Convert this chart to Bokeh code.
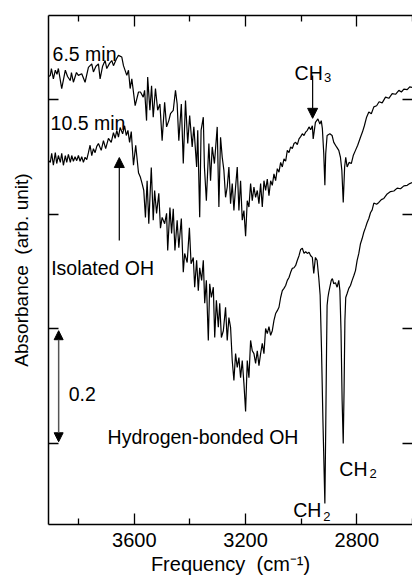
from bokeh.plotting import figure
from bokeh.models import Range1d, LinearAxis, FixedTicker, Label, Arrow, NormalHead
from bokeh.embed import file_html
from bokeh.resources import INLINE

# ---- data ----
freq_65 = [3908, 3902, 3898, 3891, 3884, 3878, 3873, 3861, 3848, 3840,
           3830, 3826, 3819, 3808, 3801, 3789, 3777, 3765, 3753, 3747,
           3738, 3729, 3723, 3714, 3705, 3699, 3689, 3681, 3675, 3664,
           3657, 3645, 3639, 3627, 3621, 3615, 3609, 3597, 3585, 3578,
           3568, 3563, 3556, 3552, 3544, 3538, 3532, 3524, 3516, 3508,
           3500, 3491, 3484, 3476, 3470, 3460, 3452, 3446, 3440, 3431,
           3424, 3416, 3408, 3401, 3392, 3386, 3376, 3372, 3365, 3360,
           3352, 3348, 3341, 3332, 3326, 3320, 3312, 3302, 3296, 3290,
           3284, 3278, 3272, 3266, 3260, 3254, 3248, 3242, 3236, 3230,
           3224, 3218, 3212, 3206, 3200, 3194, 3188, 3182, 3176, 3170,
           3164, 3158, 3152, 3146, 3140, 3134, 3128, 3122, 3116, 3110,
           3104, 3098, 3092, 3086, 3080, 3074, 3068, 3062, 3056, 3050,
           3044, 3038, 3032, 3026, 3020, 3014, 3008, 3002, 2996, 2990,
           2984, 2978, 2972, 2966, 2960, 2957, 2949, 2940, 2933, 2928,
           2924, 2919, 2915, 2912, 2907, 2897, 2889, 2883, 2873, 2865,
           2859, 2854, 2849, 2844, 2840, 2835, 2828, 2820, 2813, 2805,
           2797, 2787, 2780, 2773, 2765, 2757, 2748, 2739, 2729, 2720,
           2709, 2697, 2685, 2673, 2661, 2649, 2640, 2631, 2619, 2610,
           2600]
abs_65 = [0.841, 0.843, 0.855, 0.837, 0.852, 0.845, 0.855, 0.820, 0.852, 0.841,
          0.834, 0.848, 0.831, 0.848, 0.843, 0.846, 0.831, 0.857, 0.863, 0.849,
          0.859, 0.863, 0.837, 0.859, 0.869, 0.855, 0.864, 0.869, 0.860, 0.872,
          0.878, 0.875, 0.860, 0.843, 0.852, 0.820, 0.837, 0.790, 0.814, 0.814,
          0.805, 0.817, 0.764, 0.840, 0.782, 0.825, 0.770, 0.820, 0.782, 0.793,
          0.729, 0.796, 0.753, 0.764, 0.776, 0.782, 0.817, 0.793, 0.729, 0.793,
          0.689, 0.799, 0.724, 0.773, 0.718, 0.753, 0.683, 0.747, 0.595, 0.747,
          0.770, 0.683, 0.624, 0.724, 0.659, 0.718, 0.689, 0.753, 0.613, 0.735,
          0.700, 0.677, 0.630, 0.648, 0.683, 0.619, 0.654, 0.607, 0.648, 0.683,
          0.607, 0.659, 0.590, 0.607, 0.562, 0.624, 0.613, 0.654, 0.624, 0.648,
          0.630, 0.642, 0.619, 0.654, 0.613, 0.659, 0.642, 0.662, 0.633, 0.659,
          0.651, 0.671, 0.659, 0.680, 0.674, 0.691, 0.683, 0.697, 0.693, 0.712,
          0.708, 0.718, 0.715, 0.724, 0.726, 0.722, 0.732, 0.736, 0.741, 0.738,
          0.744, 0.747, 0.753, 0.748, 0.755, 0.732, 0.761, 0.767, 0.758, 0.764,
          0.750, 0.706, 0.651, 0.706, 0.738, 0.741, 0.738, 0.726, 0.718, 0.712,
          0.700, 0.677, 0.621, 0.683, 0.700, 0.683, 0.691, 0.689, 0.703, 0.712,
          0.721, 0.735, 0.744, 0.755, 0.770, 0.779, 0.776, 0.788, 0.790, 0.797,
          0.795, 0.805, 0.803, 0.811, 0.810, 0.817, 0.814, 0.819, 0.818, 0.823,
          0.822]

freq_105 = [3908, 3902, 3897, 3891, 3884, 3879, 3873, 3866, 3861, 3855,
            3848, 3843, 3837, 3830, 3825, 3819, 3813, 3807, 3801, 3795,
            3789, 3783, 3777, 3771, 3765, 3759, 3753, 3747, 3741, 3735,
            3729, 3719, 3711, 3703, 3693, 3683, 3675, 3669, 3663, 3657,
            3651, 3642, 3635, 3629, 3623, 3617, 3611, 3603, 3595, 3585,
            3578, 3572, 3566, 3560, 3554, 3548, 3539, 3532, 3527, 3520,
            3512, 3506, 3500, 3491, 3484, 3480, 3472, 3466, 3460, 3454,
            3446, 3440, 3431, 3424, 3419, 3410, 3402, 3396, 3388, 3383,
            3376, 3370, 3365, 3358, 3352, 3347, 3341, 3334, 3329, 3323,
            3316, 3311, 3305, 3298, 3293, 3287, 3280, 3272, 3266, 3260,
            3254, 3248, 3242, 3236, 3230, 3224, 3218, 3212, 3206, 3200,
            3194, 3188, 3182, 3176, 3170, 3164, 3158, 3152, 3146, 3140,
            3134, 3128, 3122, 3116, 3110, 3104, 3098, 3092, 3086, 3080,
            3074, 3068, 3062, 3056, 3050, 3044, 3038, 3032, 3026, 3020,
            3014, 3008, 3002, 2996, 2990, 2984, 2978, 2972, 2966, 2960,
            2955, 2949, 2943, 2937, 2932, 2927, 2922, 2915, 2912, 2909,
            2907, 2904, 2901, 2892, 2888, 2883, 2877, 2871, 2865, 2861,
            2857, 2853, 2849, 2846, 2843, 2840, 2835, 2829, 2823, 2817,
            2811, 2805, 2799, 2793, 2787, 2781, 2775, 2769, 2763, 2757,
            2751, 2745, 2739, 2729, 2721, 2712, 2703, 2691, 2679, 2667,
            2655, 2643, 2631, 2619, 2610, 2600]
abs_105 = [0.694, 0.691, 0.707, 0.686, 0.708, 0.689, 0.703, 0.691, 0.707, 0.686,
           0.703, 0.691, 0.705, 0.691, 0.703, 0.693, 0.701, 0.694, 0.703, 0.693,
           0.701, 0.691, 0.700, 0.696, 0.708, 0.721, 0.703, 0.715, 0.708, 0.719,
           0.724, 0.712, 0.729, 0.715, 0.733, 0.726, 0.743, 0.733, 0.747, 0.735,
           0.752, 0.741, 0.755, 0.738, 0.747, 0.726, 0.745, 0.686, 0.721, 0.673,
           0.665, 0.654, 0.642, 0.595, 0.659, 0.584, 0.682, 0.590, 0.642, 0.602,
           0.637, 0.576, 0.595, 0.584, 0.602, 0.537, 0.612, 0.567, 0.610, 0.537,
           0.590, 0.542, 0.593, 0.499, 0.532, 0.516, 0.577, 0.514, 0.525, 0.473,
           0.520, 0.467, 0.507, 0.485, 0.520, 0.445, 0.485, 0.380, 0.479, 0.455,
           0.473, 0.385, 0.450, 0.403, 0.445, 0.385, 0.397, 0.438, 0.380, 0.420,
           0.403, 0.345, 0.310, 0.357, 0.333, 0.350, 0.315, 0.345, 0.305, 0.256,
           0.345, 0.315, 0.380, 0.362, 0.357, 0.340, 0.362, 0.336, 0.357, 0.375,
           0.357, 0.401, 0.392, 0.404, 0.389, 0.397, 0.415, 0.427, 0.432, 0.438,
           0.455, 0.467, 0.471, 0.476, 0.485, 0.490, 0.499, 0.506, 0.507, 0.511,
           0.520, 0.528, 0.539, 0.541, 0.532, 0.535, 0.532, 0.534, 0.528, 0.525,
           0.497, 0.525, 0.520, 0.490, 0.459, 0.362, 0.240, 0.095, 0.223, 0.362,
           0.441, 0.455, 0.464, 0.485, 0.488, 0.479, 0.481, 0.473, 0.485, 0.467,
           0.397, 0.275, 0.200, 0.293, 0.415, 0.455, 0.462, 0.471, 0.476, 0.485,
           0.493, 0.502, 0.520, 0.532, 0.549, 0.558, 0.569, 0.577, 0.586, 0.593,
           0.603, 0.608, 0.620, 0.618, 0.621, 0.626, 0.628, 0.636, 0.640, 0.641,
           0.646, 0.645, 0.650, 0.651, 0.654, 0.656]

x_major_ticks = [3600, 3200, 2800]
x_minor_ticks = [3800, 3400, 3000, 2600]
y_ticks = [0.2, 0.4, 0.6, 0.8]

FONT = "Liberation Sans"

p = figure(width=412, height=583,
           x_range=Range1d(3908.5, 2600), y_range=Range1d(0.0585, 0.9476),
           output_backend="svg", toolbar_location=None,
           min_border_left=48, min_border_right=0,
           min_border_top=15, min_border_bottom=59)
p.grid.visible = False
p.outline_line_color = None
p.background_fill_color = "white"
p.border_fill_color = "white"

def style_axis(ax, ticker, tick_in, minor_in, labels):
    ax.ticker = ticker
    ax.major_tick_in = tick_in
    ax.major_tick_out = 0
    ax.minor_tick_in = minor_in
    ax.minor_tick_out = 0
    ax.axis_line_width = 1.5
    ax.major_tick_line_width = 1.3
    ax.minor_tick_line_width = 1.3
    ax.axis_line_color = "black"
    ax.major_tick_line_color = "black"
    ax.minor_tick_line_color = "black"
    if labels:
        ax.major_label_text_font = FONT
        ax.major_label_text_font_size = "20px"
        ax.major_label_text_color = "black"
        ax.major_label_standoff = 8
    else:
        ax.major_label_text_font_size = "1px"
        ax.major_label_text_color = None
        ax.major_label_standoff = 0

xb = p.below[0]
style_axis(xb, FixedTicker(ticks=x_major_ticks, minor_ticks=x_minor_ticks), 11, 6, True)
xb.axis_label = "Frequency\u00a0 (cm\u207b\u00b9)"
xb.axis_label_text_font = FONT
xb.axis_label_text_font_size = "20px"
xb.axis_label_text_font_style = "normal"
xb.axis_label_text_color = "black"
xb.axis_label_standoff = 3

xt = LinearAxis()
style_axis(xt, FixedTicker(ticks=x_major_ticks, minor_ticks=x_minor_ticks), 11, 6, False)
p.add_layout(xt, "above")

yl = p.left[0]
style_axis(yl, FixedTicker(ticks=y_ticks, minor_ticks=[]), 10, 0, False)
yl.axis_label = "Absorbance\u00a0 (arb. unit)"
yl.axis_label_text_font = FONT
yl.axis_label_text_font_size = "19px"
yl.axis_label_text_font_style = "normal"
yl.axis_label_text_color = "black"
yl.axis_label_standoff = 17

yr = LinearAxis()
style_axis(yr, FixedTicker(ticks=y_ticks, minor_ticks=[]), 10, 0, False)
yr.axis_line_color = None
p.add_layout(yr, "right")

p.line(freq_65, abs_65, line_color="black", line_width=1.2)
p.line(freq_105, abs_105, line_color="black", line_width=1.2)

def lab(x, y, text, size="19.5px"):
    p.add_layout(Label(x=x, y=y, text=text, text_font=FONT, text_font_size=size,
                       text_baseline="alphabetic", text_align="left",
                       text_color="black"))

lab(3894, 0.881, "6.5 min")
lab(3901, 0.759, "10.5 min")
lab(3899, 0.507, "Isolated OH")
lab(3024, 0.848, "CH")
lab(2918, 0.839, "3", "13px")
lab(3836, 0.2856, "0.2")
lab(3696, 0.2122, "Hydrogen-bonded OH")
lab(2863, 0.156, "CH")
lab(2755, 0.148, "2", "13px")
lab(3029, 0.083, "CH")
lab(2921, 0.0725, "2", "13px")

p.add_layout(Arrow(end=NormalHead(size=10, fill_color="black", line_color="black", line_width=1),
                   x_start=3654, y_start=0.5546, x_end=3654, y_end=0.6995,
                   line_color="black", line_width=1.2))
p.add_layout(Arrow(end=NormalHead(size=10, fill_color="black", line_color="black", line_width=1),
                   x_start=2959, y_start=0.843, x_end=2959, y_end=0.768,
                   line_color="black", line_width=1.2))
p.add_layout(Arrow(start=NormalHead(size=9, fill_color="black", line_color="black", line_width=1),
                   end=NormalHead(size=9, fill_color="black", line_color="black", line_width=1),
                   x_start=3872, y_start=0.203, x_end=3872, y_end=0.397,
                   line_color="#555555", line_width=1.5))

open("out.html", "w").write(file_html(p, INLINE))
